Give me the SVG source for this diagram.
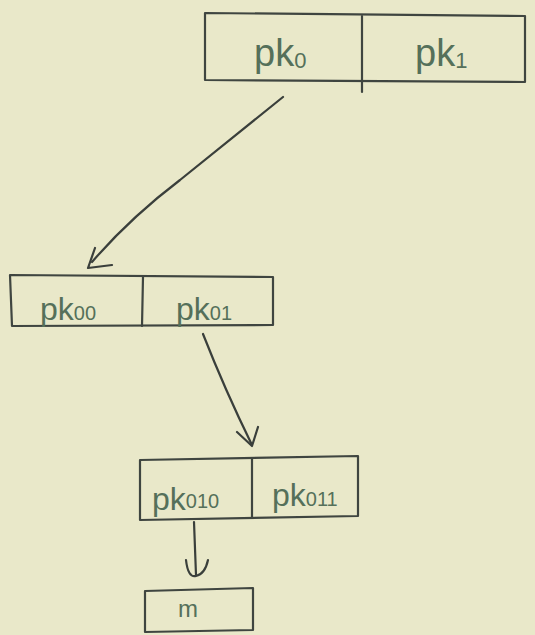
<svg xmlns="http://www.w3.org/2000/svg" width="535" height="635" viewBox="0 0 535 635">
<style>
.bx{fill:none;stroke:#3f4540;stroke-width:2.2;stroke-linecap:round;stroke-linejoin:round}
.ln{fill:none;stroke:#3a3f3b;stroke-width:2.2;stroke-linecap:round;stroke-linejoin:round}
.t{font-family:"Liberation Sans",Arial,sans-serif;fill:#55705a;font-size:38px}
.s{font-size:22px}
.m{font-size:32px}
.ms{font-size:20px}
</style>
<rect width="535" height="635" fill="#e9e8c9"/>
<g id="node-top">
<path class="bx" d="M205,13 L525,16 L525,82 L205,80 Z"/>
<path class="bx" d="M362,16 L362,92"/>
<text class="t" x="254" y="66">pk<tspan class="s" dy="2">0</tspan></text>
<text class="t" x="415" y="66">pk<tspan class="s" dy="2">1</tspan></text>
</g>
<g id="node-mid">
<path class="bx" d="M10,275 L273,277 L273,325 L12,326 Z"/>
<path class="bx" d="M143,277 L142,326"/>
<text class="t m" x="40" y="320">pk<tspan class="ms" dy="0">00</tspan></text>
<text class="t m" x="176" y="320">pk<tspan class="ms" dy="0">01</tspan></text>
</g>
<g id="node-low">
<path class="bx" d="M140,460 L358,456 L358,516 L140,520 Z"/>
<path class="bx" d="M252,458 L252,518"/>
<text class="t m" x="152" y="510">pk<tspan class="ms" dy="-2">010</tspan></text>
<text class="t m" x="272" y="506">pk<tspan class="ms" dy="0">011</tspan></text>
</g>
<g id="node-m">
<path class="bx" d="M145,591 L253,588 L253,630 L145,632 Z"/>
<text class="t" x="178" y="617" style="font-size:24px">m</text>
</g>
<g id="connectors">
<path class="ln" d="M283,97 Q230,140 180,180 Q130,218 92,262"/>
<path class="ln" d="M95,248 L88,268 L112,265"/>
<path class="ln" d="M203,334 Q225,390 252,445"/>
<path class="ln" d="M237,432 L252,446 L258,427"/>
<path class="ln" d="M194,522 L196,575"/>
<path class="ln" d="M186,560 Q188,578 196,576 Q205,574 208,560"/>
</g>
</svg>
